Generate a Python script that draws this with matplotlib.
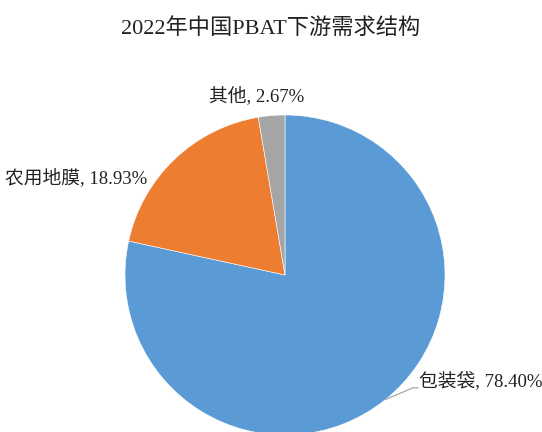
import matplotlib
matplotlib.use("Agg")
import matplotlib.pyplot as plt
import numpy as np

# downstream demand share of PBAT in China, 2022
categories = ["包装袋", "农用地膜", "其他"]
shares = [78.40, 18.93, 2.67]
colors = ["#5B9BD5", "#ED7D31", "#A5A5A5"]

plt.rcParams["font.family"] = ["Liberation Serif", "Noto Sans CJK SC"]


def main():
    fig = plt.figure(figsize=(5.42, 4.32), dpi=100)
    fig.text(0.5, 0.935, "2022年中国PBAT下游需求结构", ha="center", va="center",
             fontsize=16, color="#222222")

    # pie centred at (285, 275) px, radius 160 px
    cx, cy, r = 285 / 542, 1 - 275 / 432, 160
    w, h = r / 542, r / 432
    ax = fig.add_axes([cx - w, cy - h, 2 * w, 2 * h])
    wedges, _ = ax.pie(shares, colors=colors, startangle=90, counterclock=False,
                       radius=1.0, wedgeprops=dict(linewidth=0.4, edgecolor="white"))
    ax.set_xlim(-1, 1)
    ax.set_ylim(-1, 1)
    ax.set_aspect("equal")
    ax.axis("off")

    # label offsets for each slice (data units)
    label_pos = [(0.84, -0.66, "left"), (-0.86, 0.61, "right"), (0.12, 1.12, "right")]
    for wdg, name, val, (lx, ly, ha) in zip(wedges, categories, shares, label_pos):
        txt = f"{name}, {val:.2f}%"
        ax.text(lx, ly, txt, ha=ha, va="center", fontsize=13.5, color="#222222",
                clip_on=False)

    # leader line for the biggest slice
    wdg = wedges[0]
    mid = np.deg2rad((wdg.theta1 + wdg.theta2) / 2)
    x0, y0 = np.cos(mid), np.sin(mid)
    ax.plot([x0, 0.8, 0.83], [y0, -0.705, -0.705], color="#A6A6A6",
            linewidth=0.9, clip_on=False)

    fig.savefig("out.png", dpi=100)


if __name__ == "__main__":
    main()
